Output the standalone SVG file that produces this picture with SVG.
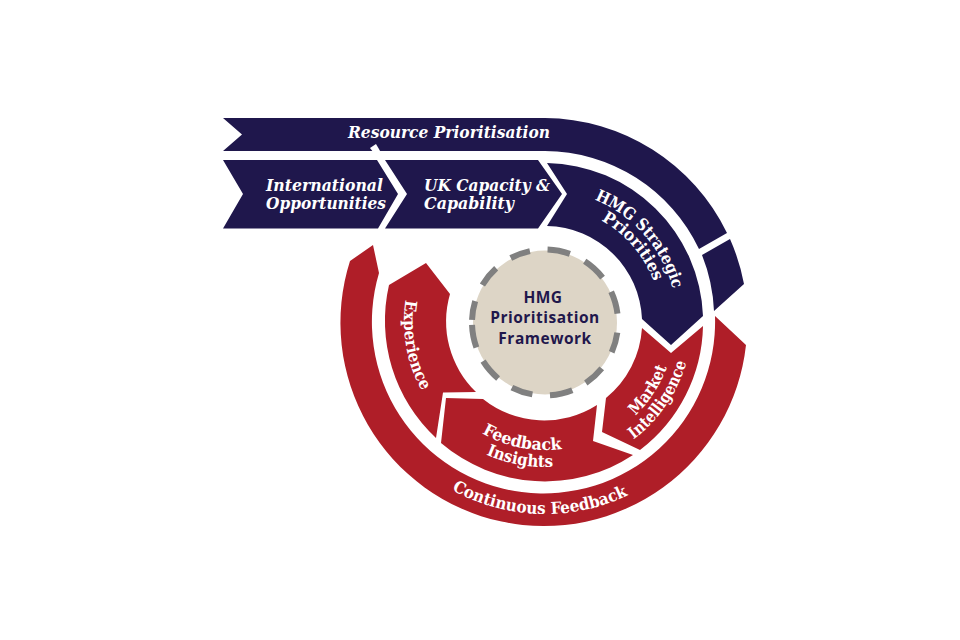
<svg xmlns="http://www.w3.org/2000/svg" width="960" height="640" viewBox="0 0 960 640">
<style>
.navy{fill:#1f174c}
.red{fill:#af1e28}
.l{fill:#fff;font-family:"DejaVu Serif","Liberation Serif",serif;font-weight:700;font-size:16.5px}
.i{font-style:italic;font-size:17px}
.c{fill:#1f174c;font-family:"Open Sans","Liberation Sans",sans-serif;font-weight:700;font-size:15.5px;text-anchor:middle;letter-spacing:.5px}
</style>
<defs>
<path id="pExp" d="M405.700 299.900A141 141 0 0 0 437 412.600"/>
<path id="pFee" d="M481.800 433.300A128 128 0 0 0 588.800 442.300"/>
<path id="pIns" d="M486 454.500A145 145 0 0 0 582.500 462"/>
<path id="pCon" d="M451.900 489.900A192 192 0 0 0 655.100 479.300"/>
<path id="pMar" d="M635.300 415.500A130 130 0 0 0 673 344.600"/>
<path id="pInt" d="M633.500 439.400A147 147 0 0 0 691.400 334.800"/>
<path id="pHmg" d="M594.400 199.600A132 132 0 0 1 677 322"/>
<path id="pPri" d="M601.200 220.500A116 116 0 0 1 660.600 311.900"/>
</defs>
<rect width="960" height="640" fill="#fff"/>
<g id="resource-prioritisation">
<path class="navy" d="M223 118H545A204 204 0 0 1 727 233L699 249A171 171 0 0 0 545 151H223L242 134.500Z"/>
<path class="navy" d="M702 255L730 239A204 204 0 0 1 744 284L714 311A171 171 0 0 0 702 255Z"/>
<path fill="#fff" d="M370 148L376 144L386 161H380Z"/>
<text class="l i" x="348" y="138" textLength="202" lengthAdjust="spacingAndGlyphs">Resource Prioritisation</text>
</g>
<g id="international-opportunities">
<path class="navy" d="M223 160H377L398 194L378 228.500H223L243 194Z"/>
<text class="l i" x="266" y="191" textLength="117" lengthAdjust="spacingAndGlyphs">International</text>
<text class="l i" x="266" y="209" textLength="120" lengthAdjust="spacingAndGlyphs">Opportunities</text>
</g>
<g id="uk-capacity">
<path class="navy" d="M385 160H538L562 194L538 228.500H385L407 194Z"/>
<text class="l i" x="424" y="191" textLength="126" lengthAdjust="spacingAndGlyphs">UK Capacity &amp;</text>
<text class="l i" x="424" y="209" textLength="90" lengthAdjust="spacingAndGlyphs">Capability</text>
</g>
<g id="hmg-strategic-priorities">
<path class="navy" d="M547 163A159 159 0 0 1 703 316L671 345L642 319A97 97 0 0 0 547 226L567 194Z"/>
<text class="l"><textPath href="#pHmg" textLength="123" lengthAdjust="spacingAndGlyphs">HMG Strategic</textPath></text>
<text class="l"><textPath href="#pPri" textLength="82" lengthAdjust="spacingAndGlyphs">Priorities</textPath></text>
</g>
<g id="continuous-feedback">
<path class="red" d="M715 316L746 345A203.400 203.400 0 1 1 350 261L373 245L379 273A171.600 171.600 0 1 0 715 316Z"/>
<text class="l"><textPath href="#pCon" textLength="183" lengthAdjust="spacingAndGlyphs">Continuous Feedback</textPath></text>
</g>
<g id="experience">
<path class="red" d="M389 285L426 263L450 294A98 98 0 0 0 476 392L443 392.500L436 438A160 160 0 0 1 389 285Z"/>
<text class="l"><textPath href="#pExp" textLength="94" lengthAdjust="spacingAndGlyphs">Experience</textPath></text>
</g>
<g id="feedback-insights">
<path class="red" d="M446 398L483 399A98 98 0 0 0 597 405L593 441L633 455A160 160 0 0 1 441 443Z"/>
<text class="l"><textPath href="#pFee" textLength="83" lengthAdjust="spacingAndGlyphs">Feedback</textPath></text>
<text class="l"><textPath href="#pIns" textLength="69" lengthAdjust="spacingAndGlyphs">Insights</textPath></text>
</g>
<g id="market-intelligence">
<path class="red" d="M606 398L602 432L640 450A160 160 0 0 0 703 326L671 353L642 328A98 98 0 0 1 606 398Z"/>
<text class="l"><textPath href="#pMar" textLength="58" lengthAdjust="spacingAndGlyphs">Market</textPath></text>
<text class="l"><textPath href="#pInt" textLength="95" lengthAdjust="spacingAndGlyphs">Intelligence</textPath></text>
</g>
<g id="hmg-prioritisation-framework">
<circle cx="545" cy="322.500" r="72" fill="#ddd5c6"/>
<circle cx="545" cy="322.500" r="73" fill="none" stroke="#808080" stroke-width="6" pathLength="360" transform="rotate(-88 545 322.500)" stroke-dasharray="18 13 19 13 18 15 16 15 17 12 18 14 17 13 18 12 18 4 15 14 17 14 16 14"/>
<text class="c" x="543" y="303">HMG</text>
<text class="c" x="545" y="323">Prioritisation</text>
<text class="c" x="545" y="344">Framework</text>
</g>
</svg>
